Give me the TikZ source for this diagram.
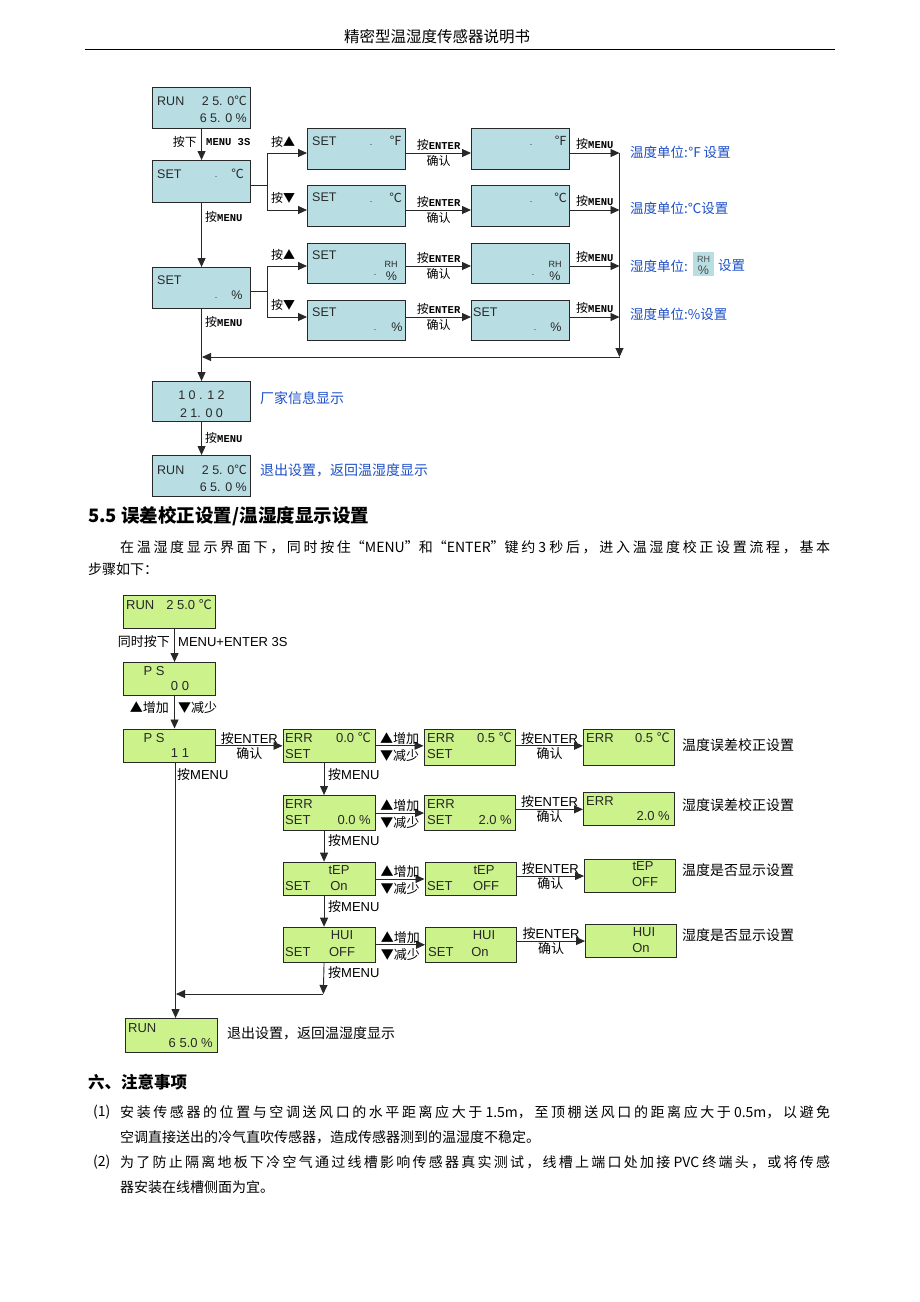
\documentclass[tikz,border=0pt]{standalone}
\usepackage{fontspec}
\setmainfont{Noto Sans CJK SC}
\newfontfamily\cjkf{Noto Sans CJK SC}
\newfontfamily\arialf{Liberation Sans}
\newfontfamily\monof{Liberation Mono}
\usetikzlibrary{arrows.meta,calc}
\definecolor{tfill}{RGB}{184,222,228}
\definecolor{gfill}{RGB}{204,242,140}
\definecolor{lblue}{RGB}{30,80,200}
\definecolor{bline}{RGB}{40,40,40}
\newcommand\dC{{\cjkf ℃}}
\newcommand\dF{{\cjkf ℉}}
\newcommand\mn[1]{{\monof\bfseries\fontsize{10.5}{11}\selectfont #1}}
% stretchable glue between CJK characters (natural width zero)
\XeTeXinterchartokenstate=1
\newcount\cjkcc
\cjkcc="4E00
\loop\XeTeXcharclass\cjkcc=7 \advance\cjkcc 1 \ifnum\cjkcc<"9FA6 \repeat
\XeTeXcharclass"FF0C=7 \XeTeXcharclass"3002=7 \XeTeXcharclass"FF1A=7 \XeTeXcharclass"3001=7
\XeTeXinterchartoks 7 7 = {\hskip0pt plus 1fil\relax}
\begin{document}
\begin{tikzpicture}[x=1pt,y=-1pt,
  tbox/.style={draw=bline,line width=1.1pt,fill=tfill,inner sep=0pt,anchor=north west,minimum width=98pt,minimum height=41pt},
  gbox/.style={draw=bline,line width=1.1pt,fill=gfill,inner sep=0pt,anchor=north west,minimum width=92pt,minimum height=34pt},
  bt/.style={font=\arialf\fontsize{12.5}{13}\selectfont,inner sep=0pt,text=bline},
  gt/.style={font=\arialf\fontsize{13}{13}\selectfont,inner sep=0pt,text=bline},
  dot/.style={font=\arialf\fontsize{9}{9}\selectfont,inner sep=0pt,text=bline},
  lab/.style={font=\fontsize{12}{12}\selectfont,inner sep=0pt},
  glab/.style={font=\fontsize{13}{13}\selectfont,inner sep=0pt},
  slab/.style={font=\fontsize{14}{14}\selectfont,inner sep=0pt,anchor=west},
  blab/.style={font=\fontsize{13.5}{14}\selectfont,inner sep=0pt,text=lblue,anchor=west},
  arr/.style={-{Triangle[length=9pt,width=8pt]},line width=0.9pt,draw=bline},
  ln/.style={line width=0.9pt,draw=bline},
  body/.style={font=\fontsize{14}{14}\selectfont,inner sep=0pt,anchor=west},
  head/.style={font=\bfseries\fontsize{17}{17}\selectfont,inner sep=0pt,anchor=west}]
\useasboundingbox (0,0) rectangle (920,1302);
\fill[white] (0,0) rectangle (920,1302);

% ---------- page header ----------
\node[font=\fontsize{15.5}{16}\selectfont,inner sep=0pt] (hdr) at (437,37) {精密型温湿度传感器说明书};
\draw[line width=0.8pt] (85,49) -- (835,49);

% ---------- top flow (blue boxes) ----------
\node[tbox] (r1) at (152,87) {};
\node[tbox,minimum height=42pt] (s1) at (152,160) {};
\node[tbox] (f1) at (307,128) {};
\node[tbox] (f2) at (471,128) {};
\node[tbox] (c1) at (307,185) {};
\node[tbox] (c2) at (471,185) {};
\node[tbox] (s2) at (152,267) {};
\node[tbox,minimum height=40pt] (h1) at (307,243) {};
\node[tbox,minimum height=40pt] (h2) at (471,243) {};
\node[tbox,minimum height=40pt] (p1) at (307,300) {};
\node[tbox,minimum height=40pt] (p2) at (471,300) {};
\node[tbox,minimum height=40pt] (inf) at (152,381) {};
\node[tbox] (r2) at (152,455) {};

% box texts
\node[bt,anchor=west] at (157,101) {RUN};
\node[bt,anchor=east] at (247,101) {2 5. 0\dC};
\node[bt,anchor=east] at (247,118.5) {6 5. 0 \%};
\node[bt,anchor=west] at (157,174) {SET};
\node[dot] at (216,177) {.};
\node[bt,anchor=east] at (244,174) {\dC};
\node[bt,anchor=west] at (312,141) {SET};
\node[dot] at (371,145) {.};
\node[bt,anchor=east] at (402,141) {\dF};
\node[dot] at (531,145) {.};
\node[bt,anchor=east] at (567,141) {\dF};
\node[bt,anchor=west] at (312,197.5) {SET};
\node[dot] at (371,202) {.};
\node[bt,anchor=east] at (402,197.5) {\dC};
\node[dot] at (531,202) {.};
\node[bt,anchor=east] at (567,197.5) {\dC};
\node[bt,anchor=west] at (157,280) {SET};
\node[dot] at (216,298) {.};
\node[bt] at (237,295) {\%};
\node[bt,anchor=west] at (312,255) {SET};
\node[dot] at (375,275) {.};
\node[bt,font=\arialf\fontsize{9}{9}\selectfont] at (391,264) {RH};
\node[bt] at (391.5,276.5) {\%};
\node[dot] at (533,275) {.};
\node[bt,font=\arialf\fontsize{9}{9}\selectfont] at (555,264) {RH};
\node[bt] at (555,276.5) {\%};
\node[bt,anchor=west] at (312,312) {SET};
\node[dot] at (375,330) {.};
\node[bt] at (397,327) {\%};
\node[bt,anchor=west] at (473,312) {SET};
\node[dot] at (535,330) {.};
\node[bt] at (556,327) {\%};
\node[bt] at (201.5,395) {1 0 . 1 2};
\node[bt] at (201.5,413) {2 1. 0 0};
\node[bt,anchor=west] at (157,470) {RUN};
\node[bt,anchor=east] at (247,470) {2 5. 0\dC};
\node[bt,anchor=east] at (247,487) {6 5. 0 \%};

% main vertical
\draw[arr] (r1.south) -- (s1.north);
\node[lab,anchor=east] at (197,142) {按下};
\node[lab,anchor=west] at (206,142) {\mn{MENU 3S}};
\draw[arr] (s1.south) -- (s2.north);
\node[lab,anchor=west] at (205,217) {按\mn{MENU}};
\draw[arr] (s2.south) -- (inf.north);
\node[lab,anchor=west] at (205,322) {按\mn{MENU}};
\draw[arr] (inf.south) -- (r2.north);
\node[lab,anchor=west] at (205,438) {按\mn{MENU}};

% branches
\coordinate (j1) at (267,185);
\coordinate (j1a) at (267,153);
\coordinate (j1b) at (267,210);
\coordinate (j2) at (267,291.5);
\coordinate (j2a) at (267,266);
\coordinate (j2b) at (267,317);
\draw[ln] (s1.east|-j1) -- (j1);
\draw[ln] (j1a) -- (j1b);
\draw[arr] (j1a) -- (f1.west|-j1a);
\draw[arr] (j1b) -- (c1.west|-j1b);
\draw[ln] (s2.east|-j2) -- (j2);
\draw[ln] (j2a) -- (j2b);
\draw[arr] (j2a) -- (h1.west|-j2a);
\draw[arr] (j2b) -- (p1.west|-j2b);
\node[lab] at (283,142) {按▲};
\node[lab] at (283,198) {按▼};
\node[lab] at (283,255) {按▲};
\node[lab] at (283,305) {按▼};

% ENTER arrows
\draw[arr] (f1.east|-j1a) -- (f2.west|-j1a)
  node[lab,midway,above=2pt] {按\mn{ENTER}} node[lab,midway,below=1.5pt] {确认};
\draw[arr] (c1.east|-j1b) -- (c2.west|-j1b)
  node[lab,midway,above=2pt] {按\mn{ENTER}} node[lab,midway,below=1.5pt] {确认};
\draw[arr] (h1.east|-j2a) -- (h2.west|-j2a)
  node[lab,midway,above=2pt] {按\mn{ENTER}} node[lab,midway,below=1.5pt] {确认};
\draw[arr] (p1.east|-j2b) -- (p2.west|-j2b)
  node[lab,midway,above=2pt] {按\mn{ENTER}} node[lab,midway,below=1.5pt] {确认};

% MENU arrows to right collector
\coordinate (ef) at (619.5,153);
\coordinate (ec) at (619.5,210);
\coordinate (eh) at (619.5,266);
\coordinate (ep) at (619.5,317);
\coordinate (vb) at (619.5,357);
\coordinate (hl) at (202,357);
\draw[arr] (f2.east|-ef) -- (ef) node[lab,midway,above=3pt] {按\mn{MENU}};
\draw[arr] (c2.east|-ec) -- (ec) node[lab,midway,above=3pt] {按\mn{MENU}};
\draw[arr] (h2.east|-eh) -- (eh) node[lab,midway,above=3pt] {按\mn{MENU}};
\draw[arr] (p2.east|-ep) -- (ep) node[lab,midway,above=3pt] {按\mn{MENU}};
\draw[arr] (ef) -- (vb);
\draw[arr] (vb) -- (hl);

% blue side labels
\node[blab] at (630,152) {温度单位:\dF\,设置};
\node[blab] at (630,208.5) {温度单位:{\dC}设置};
\node[blab] (hlab) at (630,266) {湿度单位:};
\node[fill=tfill,inner sep=0pt,minimum width=21pt,minimum height=24pt,anchor=north west] (icon) at (693,252) {};
\node[bt,font=\arialf\fontsize{9}{9}\selectfont,text=black!70] at (703.5,259) {RH};
\node[bt,text=black!70] at (703.5,270.5) {\%};
\node[blab] at (718,266) {设置};
\node[blab] at (630,314.5) {湿度单位:{\%}设置};
\node[blab,font=\fontsize{14}{14}\selectfont] at (260,398) {厂家信息显示};
\node[blab,font=\fontsize{14}{14}\selectfont] at (260,470) {退出设置，返回温湿度显示};

% ---------- section 5.5 ----------
\node[head,font=\bfseries\fontsize{18.5}{19}\selectfont] at (88,516) {5.5 误差校正设置/温湿度显示设置};
\node[body] at (120,547) {\makebox[710pt][s]{在温湿度显示界面下，同时按住“MENU”和“ENTER”键约 3 秒后，进入温湿度校正设置流程，基本}};
\node[body] at (88,569) {步骤如下：};

% ---------- bottom flow (green boxes) ----------
\node[gbox,minimum height=33pt] (g0) at (123,595) {};
\node[gbox,minimum height=33pt] (g1) at (123,662) {};
\node[gbox,minimum height=33.5pt] (g2) at (123,728.5) {};
\node[gbox,minimum height=33.5pt] (e1) at (282.5,728.5) {};
\node[gbox,minimum width=91.5pt,minimum height=36pt] (e2) at (423.5,728.5) {};
\node[gbox,minimum width=91pt,minimum height=36pt] (e3) at (583,728.5) {};
\node[gbox,minimum height=35pt] (fr1) at (282.5,795) {};
\node[gbox,minimum width=91pt,minimum height=35pt] (fr2) at (424,795) {};
\node[gbox,minimum width=91pt,minimum height=33pt] (fr3) at (583,792.3) {};
\node[gbox,minimum height=33.5pt] (tr1) at (282.5,861.7) {};
\node[gbox,minimum width=91pt,minimum height=33.5pt] (tr2) at (424.5,861.7) {};
\node[gbox,minimum width=91pt,minimum height=33pt] (tr3) at (584,859) {};
\node[gbox,minimum height=35pt] (ur1) at (282.5,926.7) {};
\node[gbox,minimum width=91pt,minimum height=35pt] (ur2) at (425,926.7) {};
\node[gbox,minimum width=91pt,minimum height=33pt] (ur3) at (585,924) {};
\node[gbox,minimum height=34pt] (fin) at (125,1018) {};

% green box texts
\node[gt,anchor=west] at (126,605) {RUN};
\node[gt,anchor=east] at (212,605) {2 5.0 \dC};
\node[gt] at (154,671) {P S};
\node[gt] at (180,686) {0 0};
\node[gt] at (154,738) {P S};
\node[gt] at (180,753) {1 1};
\node[gt,anchor=west] at (285,738) {ERR};
\node[gt,anchor=east] at (371,738) {0.0 \dC};
\node[gt,anchor=west] at (285,754) {SET};
\node[gt,anchor=west] at (427,738) {ERR};
\node[gt,anchor=east] at (512,738) {0.5 \dC};
\node[gt,anchor=west] at (427,754) {SET};
\node[gt,anchor=west] at (586,738) {ERR};
\node[gt,anchor=east] at (670,738) {0.5 \dC};
\node[gt,anchor=west] at (285,804) {ERR};
\node[gt,anchor=west] at (285,820) {SET};
\node[gt,anchor=east] at (371,820) {0.0 \%};
\node[gt,anchor=west] at (427,804) {ERR};
\node[gt,anchor=west] at (427,820) {SET};
\node[gt,anchor=east] at (512,820) {2.0 \%};
\node[gt,anchor=west] at (586,801) {ERR};
\node[gt,anchor=east] at (670,816) {2.0 \%};
\node[gt] at (339,870) {tEP};
\node[gt,anchor=west] at (285,886) {SET};
\node[gt] at (339,886) {On};
\node[gt] at (484,870) {tEP};
\node[gt,anchor=west] at (427,886) {SET};
\node[gt] at (486,886) {OFF};
\node[gt] at (643,866) {tEP};
\node[gt] at (645,882) {OFF};
\node[gt] at (342,935) {HUI};
\node[gt,anchor=west] at (285,952) {SET};
\node[gt] at (342,952) {OFF};
\node[gt] at (484,935) {HUI};
\node[gt,anchor=west] at (428,952) {SET};
\node[gt] at (480,952) {On};
\node[gt] at (644,932) {HUI};
\node[gt] at (641,948) {On};
\node[gt,anchor=west] at (128,1028) {RUN};
\node[gt,anchor=east] at (213,1043) {6 5.0 \%};

% bottom connectors
\draw[arr] ([xshift=5pt]g0.south) -- ([xshift=5pt]g1.north);
\node[glab,anchor=east] at (170,642) {同时按下};
\node[glab,anchor=west,font=\arialf\fontsize{13}{13}\selectfont] at (178,642) {MENU+ENTER 3S};
\draw[arr] ([xshift=5pt]g1.south) -- ([xshift=5pt]g2.north);
\node[glab,anchor=east] at (169,708) {▲增加};
\node[glab,anchor=west] at (178,708) {▼减少};
\draw[arr] (g2.east) -- (e1.west)
  node[glab,midway,above=1pt] {按{\arialf ENTER}} node[glab,midway,below=1pt] {确认};
% row 1
\draw[arr] (e1.east) -- (e2.west|-e1.east)
  node[glab,midway,above=1pt] {▲增加} node[glab,midway,below=3pt] {▼减少};
\draw[arr] (e2.east|-e1.east) -- (e3.west|-e1.east)
  node[glab,midway,above=1pt] {按{\arialf ENTER}} node[glab,midway,below=1pt] {确认};
% row 2
\draw[arr] (fr1.east) -- (fr2.west|-fr1.east)
  node[glab,midway,above=1pt] {▲增加} node[glab,midway,below=3pt] {▼减少};
\draw[arr] (fr2.east|-fr3.west) -- (fr3.west)
  node[glab,midway,above=1pt] {按{\arialf ENTER}} node[glab,midway,below=1pt] {确认};
% row 3
\draw[arr] (tr1.east) -- (tr2.west|-tr1.east)
  node[glab,midway,above=1pt] {▲增加} node[glab,midway,below=3pt] {▼减少};
\draw[arr] (tr2.east|-tr3.west) -- (tr3.west)
  node[glab,midway,above=1pt] {按{\arialf ENTER}} node[glab,midway,below=1pt] {确认};
% row 4
\draw[arr] (ur1.east) -- (ur2.west|-ur1.east)
  node[glab,midway,above=1pt] {▲增加} node[glab,midway,below=3pt] {▼减少};
\draw[arr] (ur2.east|-ur3.west) -- (ur3.west)
  node[glab,midway,above=1pt] {按{\arialf ENTER}} node[glab,midway,below=1pt] {确认};
% column of ERR boxes
\draw[arr] ([xshift=-5pt]e1.south) -- ([xshift=-5pt]fr1.north);
\node[glab,anchor=west] at (328,775) {按{\arialf MENU}};
\draw[arr] ([xshift=-5pt]fr1.south) -- ([xshift=-5pt]tr1.north);
\node[glab,anchor=west] at (328,841) {按{\arialf MENU}};
\draw[arr] ([xshift=-5pt]tr1.south) -- ([xshift=-5pt]ur1.north);
\node[glab,anchor=west] at (328,907) {按{\arialf MENU}};
\coordinate (rb) at (323.3,994);
\coordinate (rl) at (176,994);
\draw[arr] ([xshift=-5pt]ur1.south) -- (rb);
\node[glab,anchor=west] at (328,973) {按{\arialf MENU}};
\draw[arr] (rb) -- (rl);
\draw[arr] ([xshift=6pt]g2.south) -- ([xshift=6pt]g2.south|-fin.north);
\node[glab,anchor=west] at (177,775) {按{\arialf MENU}};

% side labels
\node[slab] at (682,745) {温度误差校正设置};
\node[slab] at (682,805) {湿度误差校正设置};
\node[slab] at (682,870) {温度是否显示设置};
\node[slab] at (682,935) {湿度是否显示设置};
\node[slab] at (227,1033) {退出设置，返回温湿度显示};

% ---------- section 6 ----------
\node[head,font=\bfseries\fontsize{16.5}{17}\selectfont] at (88,1082) {六、注意事项};
\node[body] at (93,1112) {(1)};
\node[body] at (120,1112) {\makebox[710pt][s]{安装传感器的位置与空调送风口的水平距离应大于 1.5m，至顶棚送风口的距离应大于 0.5m，以避免}};
\node[body] at (120,1137) {空调直接送出的冷气直吹传感器，造成传感器测到的温湿度不稳定。};
\node[body] at (93,1162) {(2)};
\node[body] at (120,1162) {\makebox[710pt][s]{为了防止隔离地板下冷空气通过线槽影响传感器真实测试，线槽上端口处加接 PVC 终端头，或将传感}};
\node[body] at (120,1187) {器安装在线槽侧面为宜。};
\end{tikzpicture}
\end{document}
